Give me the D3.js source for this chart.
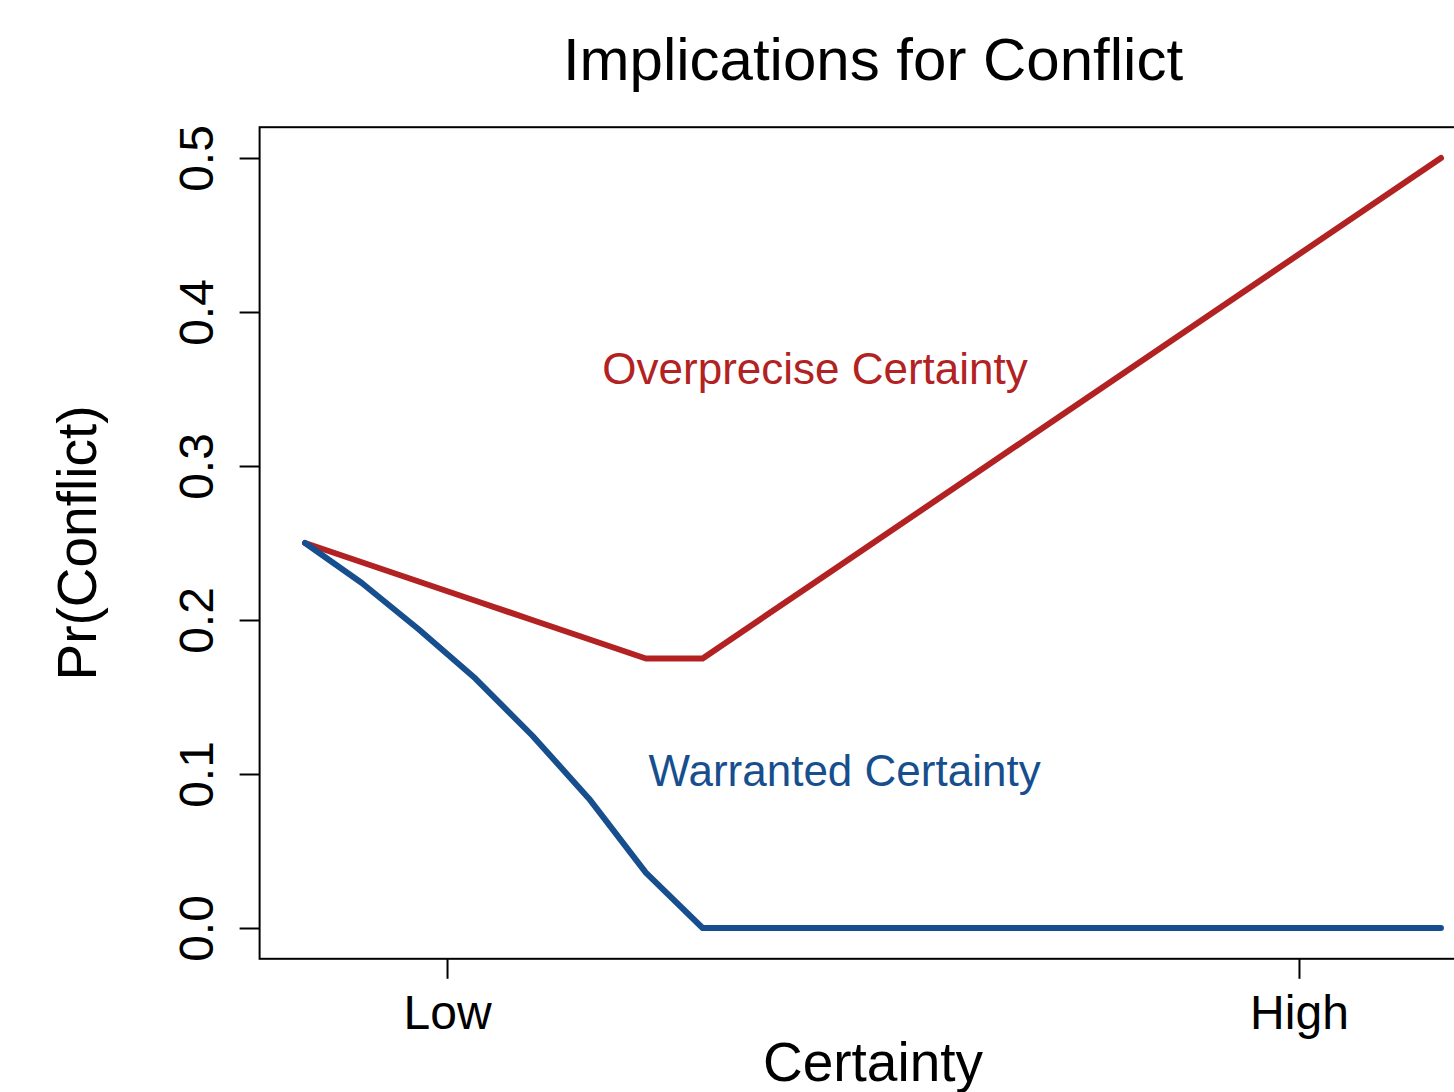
<!DOCTYPE html>
<html>
<head>
<meta charset="utf-8">
<script src="https://cdn.jsdelivr.net/npm/d3@7"></script>
<style>
  html, body { margin: 0; padding: 0; background: #fff; }
  svg { display: block; }
  text { font-family: "Liberation Sans", Arial, Helvetica, sans-serif; }
</style>
</head>
<body>
<svg id="chart" width="1454" height="1092"></svg>
<script>
// ---- data ----
const certainty = [0, 0.05, 0.10, 0.15, 0.20, 0.25, 0.30, 0.35, 0.40, 0.45, 0.50,
                   0.55, 0.60, 0.65, 0.70, 0.75, 0.80, 0.85, 0.90, 0.95, 1.00];
const overprecise = [0.25, 0.2375, 0.225, 0.2125, 0.20, 0.1875, 0.175, 0.175, 0.20, 0.225, 0.25,
                     0.275, 0.30, 0.325, 0.35, 0.375, 0.40, 0.425, 0.45, 0.475, 0.50];
const warranted = [0.25, 0.224, 0.194, 0.162, 0.125, 0.084, 0.036, 0, 0, 0, 0,
                   0, 0, 0, 0, 0, 0, 0, 0, 0, 0];
const xTickValues = [0.125, 0.875];
const xTickLabels = ["Low", "High"];
const yTickValues = [0, 0.1, 0.2, 0.3, 0.4, 0.5];
const yTickLabels = ["0.0", "0.1", "0.2", "0.3", "0.4", "0.5"];

const RED = "#b22222";
const BLUE = "#174f8e";

const svg = d3.select("#chart");

const x = d3.scaleLinear().domain([-0.04, 1.04]).range([259.6, 1486.4]);
const y = d3.scaleLinear().domain([-0.02, 0.52]).range([958.8, 127.2]);

// plot box
svg.append("rect")
  .attr("x", x(-0.04)).attr("y", y(0.52))
  .attr("width", x(1.04) - x(-0.04)).attr("height", y(-0.02) - y(0.52))
  .attr("fill", "none").attr("stroke", "#000").attr("stroke-width", 2);

// y axis
const yAxis = svg.append("g")
  .attr("transform", `translate(${x(-0.04)},0)`)
  .call(d3.axisLeft(y).tickValues(yTickValues).tickSize(20)
        .tickFormat((d, i) => yTickLabels[i]));
yAxis.select(".domain").remove();
yAxis.selectAll(".tick line").attr("stroke", "#000").attr("stroke-width", 2);
yAxis.selectAll(".tick text")
  .attr("transform", "rotate(-90)")
  .attr("x", 0).attr("y", -47).attr("dy", 0)
  .attr("text-anchor", "middle")
  .attr("fill", "#000")
  .style("font-size", "48px")
  .style("font-family", '"Liberation Sans", Arial, sans-serif');

// x axis
const xAxis = svg.append("g")
  .attr("transform", `translate(0,${y(-0.02)})`)
  .call(d3.axisBottom(x).tickValues(xTickValues).tickSize(20)
        .tickFormat((d, i) => xTickLabels[i]));
xAxis.select(".domain").remove();
xAxis.selectAll(".tick line").attr("stroke", "#000").attr("stroke-width", 2);
xAxis.selectAll(".tick text")
  .attr("y", 70).attr("dy", 0)
  .attr("text-anchor", "middle")
  .attr("fill", "#000")
  .style("font-size", "48px")
  .style("font-family", '"Liberation Sans", Arial, sans-serif');

// lines
const line = d3.line().x((d, i) => x(certainty[i])).y(d => y(d));
svg.append("path").datum(overprecise)
  .attr("d", line).attr("fill", "none").attr("stroke", RED)
  .attr("stroke-width", 6).attr("stroke-linecap", "round").attr("stroke-linejoin", "round");
svg.append("path").datum(warranted)
  .attr("d", line).attr("fill", "none").attr("stroke", BLUE)
  .attr("stroke-width", 6).attr("stroke-linecap", "round").attr("stroke-linejoin", "round");

// annotations
svg.append("text").attr("x", x(0.449)).attr("y", y(0.36) + 10)
  .attr("text-anchor", "middle").attr("fill", RED)
  .style("font-size", "44px").text("Overprecise Certainty");
svg.append("text").attr("x", x(0.475)).attr("y", y(0.10) + 12)
  .attr("text-anchor", "middle").attr("fill", BLUE)
  .style("font-size", "44px").text("Warranted Certainty");

// title
svg.append("text").attr("x", x(0.5)).attr("y", 80)
  .attr("text-anchor", "middle").attr("fill", "#000")
  .style("font-size", "60px").text("Implications for Conflict");

// axis titles
svg.append("text").attr("x", x(0.5)).attr("y", 1081)
  .attr("text-anchor", "middle").attr("fill", "#000")
  .style("font-size", "55px").text("Certainty");
svg.append("text")
  .attr("transform", `translate(96,${y(0.25)}) rotate(-90)`)
  .attr("text-anchor", "middle").attr("fill", "#000")
  .style("font-size", "55px").text("Pr(Conflict)");
</script>
</body>
</html>
